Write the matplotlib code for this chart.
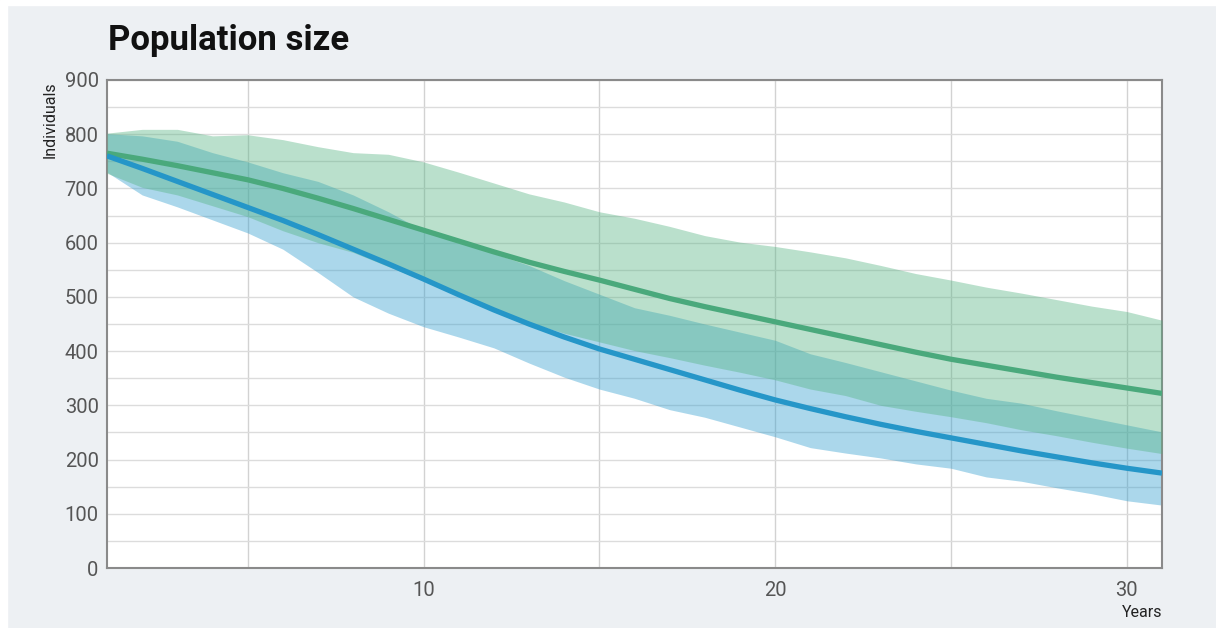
import numpy as np
import matplotlib.pyplot as plt
from matplotlib.patches import Rectangle
from matplotlib.ticker import MultipleLocator

years = np.arange(1, 32)

blue_mean = [760, 737, 713, 689, 665, 641, 615, 588, 561, 533, 504, 476, 450, 426, 404, 385,
             366, 347, 328, 310, 294, 279, 265, 252, 240, 228, 216, 205, 194, 184, 175]
blue_upper = [801, 797, 787, 766, 749, 729, 713, 688, 657, 622, 603, 580, 558, 530, 505, 480,
              466, 450, 435, 420, 395, 379, 362, 345, 328, 313, 304, 290, 277, 264, 251]
blue_lower = [730, 688, 666, 642, 618, 588, 545, 500, 470, 445, 426, 406, 378, 352, 330, 313,
              292, 278, 260, 242, 222, 212, 203, 192, 184, 168, 160, 148, 137, 124, 116]

green_mean = [765, 754, 742, 729, 716, 700, 682, 663, 643, 623, 603, 583, 564, 547, 531, 514,
              497, 482, 468, 454, 440, 426, 412, 398, 385, 374, 363, 352, 342, 332, 322]
green_upper = [802, 809, 809, 797, 799, 790, 777, 766, 763, 749, 730, 710, 690, 675, 657, 645,
               630, 613, 601, 593, 583, 572, 558, 543, 531, 518, 507, 495, 483, 473, 457]
green_lower = [728, 702, 688, 668, 648, 622, 600, 582, 556, 530, 502, 476, 453, 433, 417, 401,
               388, 374, 361, 347, 330, 318, 300, 289, 279, 268, 255, 244, 232, 221, 211]

W, H = 1216, 628
fig = plt.figure(figsize=(W / 100, H / 100), dpi=100)
fig.patch.set_facecolor('#edf0f3')
# thin white margin top and left
fig.patches.append(Rectangle((0, 1 - 5 / H), 1, 5 / H, transform=fig.transFigure,
                             color='white', zorder=-1))
fig.patches.append(Rectangle((0, 0), 7 / W, 1, transform=fig.transFigure,
                             color='white', zorder=-1))

ax = fig.add_axes([107 / W, 60 / H, 1055 / W, 488 / H])
ax.set_facecolor('white')

ax.fill_between(years, blue_lower, blue_upper, color='#2d9ccf', alpha=0.4, lw=0, zorder=2)
ax.fill_between(years, green_lower, green_upper, color='#53b381', alpha=0.4, lw=0, zorder=3)
ax.plot(years, green_mean, color='#4aa97c', lw=3.8, zorder=4, solid_capstyle='butt',
        solid_joinstyle='round')
ax.plot(years, blue_mean, color='#2596c8', lw=3.8, zorder=5, solid_capstyle='butt',
        solid_joinstyle='round')

ax.set_xlim(1, 31)
ax.set_ylim(0, 900)
ax.xaxis.set_major_locator(MultipleLocator(10))
ax.xaxis.set_minor_locator(MultipleLocator(5))
ax.yaxis.set_major_locator(MultipleLocator(100))
ax.yaxis.set_minor_locator(MultipleLocator(50))
ax.grid(True, axis='y', which='both', color='#dcdcdc', lw=1.0, zorder=1)
ax.grid(True, axis='x', which='both', color='#d2d2d2', lw=1.0, zorder=1)
ax.set_axisbelow(True)
ax.tick_params(which='both', length=0)
ax.tick_params(axis='y', pad=6, labelsize=14.5, labelcolor='#555555')
ax.tick_params(axis='x', pad=9, labelsize=14.5, labelcolor='#555555')
for lab in ax.get_xticklabels() + ax.get_yticklabels():
    lab.set_family('Roboto')
for s in ax.spines.values():
    s.set_color('#8a8a8a')
    s.set_linewidth(1.5)

fig.text(108 / W, 1 - 50 / H, 'Population size', family='Roboto', fontweight='bold',
         fontsize=25, color='#111111', va='baseline', ha='left')
fig.text(50 / W, 1 - 120 / H, 'Individuals', family='Roboto', fontsize=11.5, rotation=90,
         color='#222222', va='center', ha='center')
fig.text(1162 / W, 1 - 617 / H, 'Years', family='Roboto', fontsize=11.5,
         color='#222222', va='baseline', ha='right')

fig.savefig('out.png', dpi=100, facecolor=fig.get_facecolor())
